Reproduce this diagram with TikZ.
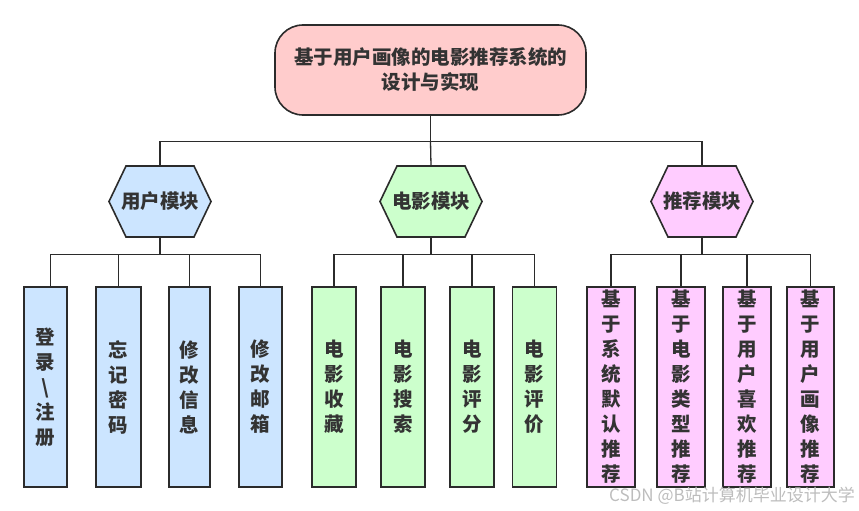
\documentclass[tikz,border=0pt]{standalone}
\usepackage{fontspec}
\setmainfont{Noto Sans CJK SC}
\usetikzlibrary{backgrounds}
\definecolor{rootfill}{HTML}{FFCCCC}
\definecolor{bluefill}{HTML}{CCE5FF}
\definecolor{greenfill}{HTML}{CCFFCC}
\definecolor{pinkfill}{HTML}{FFCCFF}
\definecolor{edge}{HTML}{2B2B2B}
\definecolor{txt}{HTML}{333333}
\definecolor{wm}{HTML}{BDBDBD}
\tikzset{
  lbl/.style={font=\fontsize{19.5}{25}\selectfont\bfseries, text=txt, align=center, inner sep=0pt},
  rootbox/.style={lbl, draw=edge, line width=1.6pt, fill=rootfill, rounded corners=28pt, minimum width=311pt, minimum height=90pt},
  hexcore/.style={lbl, minimum height=71pt},
  hexline/.style={draw=edge, line width=1.6pt, line join=miter},
  leaf/.style={lbl, draw=edge, line width=1.8pt, minimum height=200pt},
  conn/.style={draw=edge, line width=1.3pt},
}
\begin{document}
\begin{tikzpicture}[x=1pt,y=-1pt]
\useasboundingbox (0,0) rectangle (859,511);
\node[rootbox] (root) at (430.5,70) {基于用户画像的电影推荐系统的\\设计与实现};

\node[hexcore] (h1) at (160,201.5) {用户模块};
\node[hexcore] (h2) at (431,201.5) {电影模块};
\node[hexcore] (h3) at (702,201.5) {推荐模块};
\begin{scope}[on background layer]
  \foreach \h/\c in {h1/bluefill,h2/greenfill,h3/pinkfill}{
    \draw[hexline, fill=\c] ([shift={(-34,-35.5)}]\h.center) -- ([shift={(34,-35.5)}]\h.center) -- ([shift={(51,0)}]\h.center) -- ([shift={(34,35.5)}]\h.center) -- ([shift={(-34,35.5)}]\h.center) -- ([shift={(-51,0)}]\h.center) -- cycle;
  }
\end{scope}

% leaves
\node[leaf, fill=bluefill, minimum width=43pt] (b1) at (45.5,387) {登\\录\\\textbackslash\\注\\册};
\node[leaf, fill=bluefill, minimum width=45pt] (b2) at (118.5,387) {忘\\记\\密\\码};
\node[leaf, fill=bluefill, minimum width=41pt] (b3) at (189.5,387) {修\\改\\信\\息};
\node[leaf, fill=bluefill, minimum width=43pt] (b4) at (260.5,387) {修\\改\\邮\\箱};

\node[leaf, fill=greenfill, minimum width=44pt] (g1) at (334,387) {电\\影\\收\\藏};
\node[leaf, fill=greenfill, minimum width=44pt] (g2) at (403,387) {电\\影\\搜\\索};
\node[leaf, fill=greenfill, minimum width=44pt] (g3) at (472,387) {电\\影\\评\\分};
\node[leaf, fill=greenfill, minimum width=44pt] (g4) at (534.5,387) {电\\影\\评\\价};

\node[leaf, fill=pinkfill, minimum width=48pt] (p1) at (611,387) {基\\于\\系\\统\\默\\认\\推\\荐};
\node[leaf, fill=pinkfill, minimum width=48pt] (p2) at (681,387) {基\\于\\电\\影\\类\\型\\推\\荐};
\node[leaf, fill=pinkfill, minimum width=48pt] (p3) at (747,387) {基\\于\\用\\户\\喜\\欢\\推\\荐};
\node[leaf, fill=pinkfill, minimum width=47pt] (p4) at (810.5,387) {基\\于\\用\\户\\画\\像\\推\\荐};

% connectors
\draw[conn] (root.south) -- ++(0,25.5) coordinate (j0);
\draw[conn] (j0) -- (h2.north);
\draw[conn] (h1.north) |- (j0) -| (h3.north);

\draw[conn] (h1.south) -- ++(0,17) coordinate (j1);
\draw[conn] ([xshift=5pt]b1.north) |- (j1) -| (b4.north);
\draw[conn] (b2.north) -- (b2.north |- j1);
\draw[conn] (b3.north) -- (b3.north |- j1);

\draw[conn] (h2.south) -- ++(0,17) coordinate (j2);
\draw[conn] (g1.north) |- (j2) -| (g4.north);
\draw[conn] (g2.north) -- (g2.north |- j2);
\draw[conn] (g3.north) -- (g3.north |- j2);

\draw[conn] (h3.south) -- ++(0,17) coordinate (j3);
\draw[conn] (p1.north) |- (j3) -| (p4.north);
\draw[conn] (p2.north) -- (p2.north |- j3);
\draw[conn] (p3.north) -- (p3.north |- j3);

\node[font=\fontsize{17}{17}\selectfont, text=wm, anchor=east, inner sep=0pt] (wmark) at (855,496) {CSDN @B站计算机毕业设计大学};
\end{tikzpicture}
\end{document}
